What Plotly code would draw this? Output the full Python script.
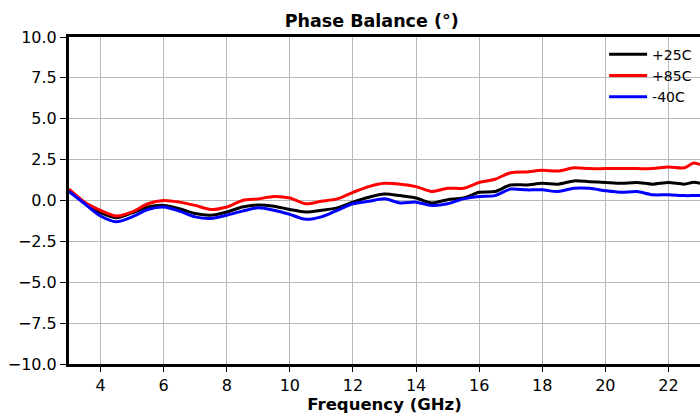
import plotly.graph_objects as go

freq = [3.0, 3.5, 4.0, 4.5, 5.0, 5.5, 6.0, 6.5, 7.0, 7.5, 8.0, 8.5, 9.0, 9.5, 10.0, 10.5,
        11.0, 11.5, 12.0, 12.5, 13.0, 13.5, 14.0, 14.5, 15.0, 15.5, 16.0, 16.5, 17.0, 17.5,
        18.0, 18.5, 19.0, 19.5, 20.0, 20.5, 21.0, 21.5, 22.0, 22.5, 22.8, 23.0]

t25 = [0.65, -0.15, -0.75, -1.05, -0.75, -0.4, -0.3, -0.5, -0.8, -0.9, -0.7, -0.4, -0.27, -0.35,
       -0.55, -0.7, -0.6, -0.45, -0.1, 0.2, 0.4, 0.3, 0.15, -0.15, 0.05, 0.15, 0.5, 0.55, 0.95, 0.95,
       1.05, 1.0, 1.2, 1.15, 1.1, 1.05, 1.1, 1.0, 1.1, 1.0, 1.12, 1.05]
t85 = [0.7, -0.1, -0.6, -0.95, -0.7, -0.2, 0.0, -0.1, -0.3, -0.55, -0.4, 0.0, 0.1, 0.25,
       0.15, -0.2, -0.05, 0.1, 0.5, 0.85, 1.05, 1.0, 0.85, 0.55, 0.75, 0.75, 1.1, 1.3, 1.7, 1.75,
       1.85, 1.8, 2.0, 1.95, 1.95, 1.95, 1.95, 1.95, 2.05, 2.0, 2.3, 2.2]
tm40 = [0.55, -0.2, -0.95, -1.3, -1.0, -0.55, -0.4, -0.65, -1.0, -1.1, -0.9, -0.65, -0.45, -0.6,
        -0.85, -1.15, -1.0, -0.6, -0.2, -0.05, 0.1, -0.15, -0.1, -0.3, -0.2, 0.1, 0.25, 0.3, 0.7, 0.65,
        0.65, 0.55, 0.75, 0.75, 0.6, 0.5, 0.55, 0.35, 0.35, 0.3, 0.3, 0.3]

series_names = ["+25C", "+85C", "-40C"]
series_colors = ["black", "red", "blue"]

yticks = [10.0, 7.5, 5.0, 2.5, 0.0, -2.5, -5.0, -7.5, -10.0]
yticktext = ["10.0", "7.5", "5.0", "2.5", "0.0", "\u22122.5", "\u22125.0", "\u22127.5", "\u221210.0"]
xticks = [4, 6, 8, 10, 12, 14, 16, 18, 20, 22]

fig = go.Figure()
for name, col, ys in zip(series_names, series_colors, [t25, t85, tm40]):
    fig.add_trace(go.Scatter(x=freq, y=ys, mode="lines", name=name,
                             line=dict(color=col, width=3, shape="spline", smoothing=0.8)))

font = "DejaVu Sans"
fig.update_layout(
    width=700, height=417,
    margin=dict(l=69, r=0, t=37, b=53, autoexpand=False),
    paper_bgcolor="white", plot_bgcolor="white",
    font=dict(family=font, size=16, color="black"),
    title=dict(text="<b>Phase Balance (°)</b>", x=0.531, xanchor="center", y=0.964, yanchor="top",
               font=dict(family=font, size=17.5, color="black")),
    showlegend=True,
    legend=dict(x=0.848, y=0.995, xanchor="left", yanchor="top", bgcolor="rgba(0,0,0,0)",
                font=dict(family=font, size=14), tracegroupgap=0, itemwidth=38),
)
fig.update_xaxes(range=[3, 23], tickvals=xticks, showgrid=True, gridcolor="#b8b8b8", gridwidth=1,
                 showline=True, linecolor="black", linewidth=3, mirror=True,
                 ticks="outside", ticklen=5, tickcolor="black", tickwidth=1,
                 zeroline=False, automargin=False,
                 title=dict(text="<b>Frequency (GHz)</b>", font=dict(family=font, size=16.5), standoff=4),
                 tickfont=dict(family=font, size=16))
fig.update_yaxes(range=[-10, 10], tickvals=yticks, ticktext=yticktext, showgrid=True,
                 gridcolor="#b8b8b8", gridwidth=1,
                 showline=True, linecolor="black", linewidth=3, mirror=False,
                 ticks="outside", ticklen=6, tickcolor="black", tickwidth=1,
                 zeroline=False, automargin=False, tickfont=dict(family=font, size=16))

fig.write_html("out.html", config={"displayModeBar": False},
               post_script="document.body.style.margin='0px';")
